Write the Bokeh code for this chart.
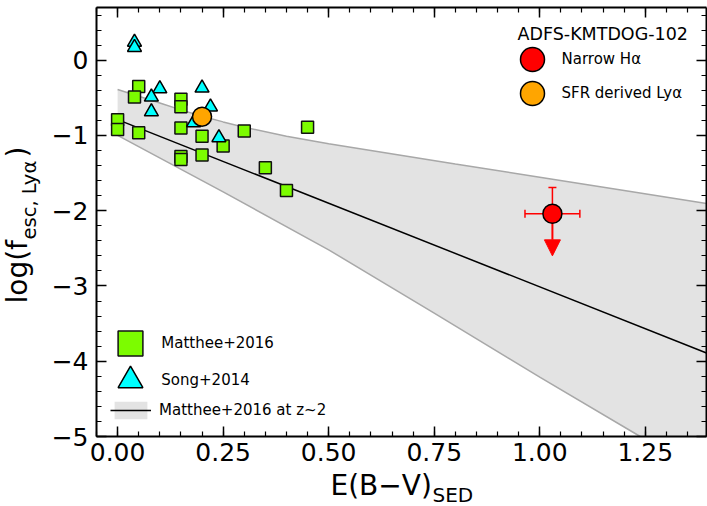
from math import pi
from bokeh.plotting import figure
from bokeh.models import (Range1d, LinearAxis, SingleIntervalTicker, Legend, LegendItem,
                          Label, Whisker, TeeHead, Arrow, NormalHead, ColumnDataSource,
                          NumeralTickFormatter, CustomJSTickFormatter)
from bokeh.embed import file_html
from bokeh.resources import INLINE

# ---------------- data ----------------
matthee_ebv = [0.05, 0.04, 0.00, 0.00, 0.05, 0.15, 0.15, 0.15, 0.15, 0.15, 0.20, 0.20, 0.25, 0.30, 0.35, 0.40, 0.45]
matthee_logf = [-0.35, -0.49, -0.79, -0.92, -0.965, -0.52, -0.62, -0.90, -1.28, -1.32, -1.01, -1.26, -1.14, -0.94, -1.43, -1.73, -0.89]

song_ebv = [0.04, 0.04, 0.10, 0.08, 0.08, 0.20, 0.22, 0.18, 0.24]
song_logf = [0.24, 0.17, -0.38, -0.49, -0.685, -0.37, -0.62, -0.83, -1.03]

sfr_ebv = [0.20]
sfr_logf = [-0.75]

ha_ebv = [1.03]
ha_logf = [-2.04]
ha_xerr = [0.065]
ha_yerr_up = [0.35]
ha_limit_end = [-2.60]

fit_ebv = [0.0, 1.395]
fit_logf = [-0.79, -3.89]

band_upper_ebv = [0.0, 0.05, 0.10, 0.15, 0.20, 0.25, 0.30, 0.40, 0.50, 0.60, 0.80, 1.00, 1.20, 1.395]
band_upper = [-0.39, -0.48, -0.57, -0.66, -0.745, -0.82, -0.89, -1.01, -1.11, -1.20, -1.38, -1.555, -1.73, -1.905]
band_lower_ebv = [0.0, 0.25, 0.50, 0.75, 1.00, 1.238]
band_lower = [-1.00, -1.75, -2.52, -3.36, -4.21, -5.00]

x_lim = (-0.05, 1.395)
y_lim = (-5.0, 0.7)
y_ticks = [-5, -4, -3, -2, -1, 0]
y_tick_labels = ["\u22125", "\u22124", "\u22123", "\u22122", "\u22121", "0"]

FONT = "DejaVu Sans"

# ---------------- layout (pixels of the visible axes box) ----------------
W, H = 707, 506
BOX_L, BOX_R, BOX_T, BOX_B = 96, 706, 7, 436
sx = (BOX_R - BOX_L) / (x_lim[1] - x_lim[0])
sy = (BOX_B - BOX_T) / (y_lim[1] - y_lim[0])
x0 = x_lim[0] - BOX_L / sx
y1 = y_lim[1] + BOX_T / sy

p = figure(width=W, height=H,
           x_range=Range1d(x0, x0 + W / sx), y_range=Range1d(y1 - H / sy, y1),
           output_backend="svg", toolbar_location=None,
           min_border=0, min_border_left=0, min_border_right=0, min_border_top=0, min_border_bottom=0)
p.title.visible = False
p.xgrid.visible = False
p.ygrid.visible = False
p.outline_line_color = None
p.background_fill_color = "white"
p.border_fill_color = "white"


def style_axis(ax, show_labels, standoff):
    ax.axis_line_color = "black"
    ax.axis_line_width = 2
    ax.major_tick_in = 10
    ax.major_tick_out = 0
    ax.minor_tick_in = 5
    ax.minor_tick_out = 0
    ax.major_tick_line_color = "black"
    ax.minor_tick_line_color = "black"
    ax.major_tick_line_width = 1.5
    ax.minor_tick_line_width = 1.2
    if show_labels:
        ax.major_label_text_font = FONT
        ax.major_label_text_font_size = "25px"
        ax.major_label_text_color = "black"
        ax.major_label_standoff = standoff
    else:
        ax.formatter = CustomJSTickFormatter(code="return ''")
        ax.major_label_standoff = 0


xb = p.xaxis[0]
xb.ticker = SingleIntervalTicker(interval=0.25, num_minor_ticks=5)
xb.formatter = NumeralTickFormatter(format="0.00")
xb.fixed_location = y_lim[0]
xb.bounds = x_lim
style_axis(xb, True, 6)

yl = p.yaxis[0]
yl.ticker = SingleIntervalTicker(interval=1, num_minor_ticks=5)
yl.major_label_overrides = dict(zip(y_ticks, y_tick_labels))
yl.fixed_location = x_lim[0]
yl.bounds = y_lim
style_axis(yl, True, 8)

xt = LinearAxis(ticker=SingleIntervalTicker(interval=0.25, num_minor_ticks=5),
                fixed_location=y_lim[1], bounds=x_lim)
style_axis(xt, False, 0)
p.add_layout(xt, "above")
yr = LinearAxis(ticker=SingleIntervalTicker(interval=1, num_minor_ticks=5),
                fixed_location=x_lim[1], bounds=y_lim)
style_axis(yr, False, 0)
p.add_layout(yr, "right")

# ---------------- band + fit ----------------
band_x = band_upper_ebv + [x_lim[1]] + band_lower_ebv[::-1]
band_y = band_upper + [y_lim[0]] + band_lower[::-1]
band_r = p.patch(band_x, band_y, fill_color="#e3e3e3", line_color=None, level="image")
p.line(band_upper_ebv, band_upper, line_color="#a8a8a8", line_width=1.5, level="image")
p.line(band_lower_ebv, band_lower, line_color="#a8a8a8", line_width=1.5, level="image")
fit_r = p.line(fit_ebv, fit_logf, line_color="black", line_width=1.5, level="image")

sq_r = p.scatter(matthee_ebv, matthee_logf, marker="square", size=12, fill_color="lawngreen",
                 line_color="#111111", line_width=1.5)
tri_r = p.scatter(song_ebv, song_logf, marker="triangle", size=14, fill_color="cyan",
                  line_color="black", line_width=1.5)
sfr_r = p.scatter(sfr_ebv, sfr_logf, marker="circle", size=19, fill_color="orange",
                  line_color="black", line_width=1.5)

ha_src = ColumnDataSource(data=dict(
    x=ha_ebv, y=ha_logf,
    xlo=[a - b for a, b in zip(ha_ebv, ha_xerr)],
    xhi=[a + b for a, b in zip(ha_ebv, ha_xerr)],
    yhi=[a + b for a, b in zip(ha_logf, ha_yerr_up)],
    yend=ha_limit_end,
))
wv = Whisker(source=ha_src, base="x", lower="y", upper="yhi", dimension="height",
             line_color="red", line_width=1.5, level="underlay",
             upper_head=TeeHead(size=8, line_color="red", line_width=1.5), lower_head=None)
wh = Whisker(source=ha_src, base="y", lower="xlo", upper="xhi", dimension="width",
             line_color="red", line_width=1.5, level="underlay",
             upper_head=TeeHead(size=8, line_color="red", line_width=1.5),
             lower_head=TeeHead(size=8, line_color="red", line_width=1.5))
p.add_layout(wv)
p.add_layout(wh)
arr = Arrow(source=ha_src, x_start="x", y_start="y", x_end="x", y_end="yend",
            line_color="red", line_width=2, level="underlay",
            end=NormalHead(size=16, fill_color="red", line_color="red", line_width=1))
p.add_layout(arr)
ha_r = p.scatter("x", "y", source=ha_src, marker="circle", size=19, fill_color="red",
                 line_color="black", line_width=1.5)

# ---------------- legends (one per entry, big keys) ----------------
common = dict(padding=0, margin=0, border_line_alpha=0, background_fill_alpha=0,
              label_text_font=FONT, label_text_font_size="15px", label_text_color="black")


def add_legend(label, renderers, cx, cy, gw, gh, standoff=0):
    lg = Legend(items=[LegendItem(label=label, renderers=renderers)],
                location=(cx - gw / 2, H - (cy + gh / 2)), glyph_width=gw, glyph_height=gh,
                label_standoff=standoff, **common)
    p.add_layout(lg, "center")


add_legend("Narrow H\u03b1", [ha_r], 531.5, 59, 60, 60)
add_legend("SFR derived Ly\u03b1", [sfr_r], 531.5, 92.7, 60, 60)
add_legend("Matthee+2016", [sq_r], 130.3, 343.3, 62, 62)
add_legend("Song+2014", [tri_r], 130.3, 380.4, 62, 62)
add_legend("Matthee+2016 at z~2", [band_r, fit_r], 130.5, 410, 41, 22, standoff=8)


def text(x, y, s, size, angle=0.0):
    p.add_layout(Label(x=x, y=y, x_units="canvas", y_units="canvas", text=s, angle=angle,
                       text_font=FONT, text_font_size=size, text_color="black",
                       text_baseline="alphabetic"))


text(517, 33, "ADFS-KMTDOG-102", "17.5px")

# x axis title with subscript
text(330, 484.5, "E(B\u2212V)", "28px")
text(432, 494, "SED", "20px")

# y axis title with subscript (rotated)
text(17, 303, "log(f", "28px", pi / 2)
text(29, 239, "esc, Ly\u03b1", "19.5px", pi / 2)
text(17, 157, ")", "28px", pi / 2)

open("out.html", "w").write(file_html(p, INLINE))
